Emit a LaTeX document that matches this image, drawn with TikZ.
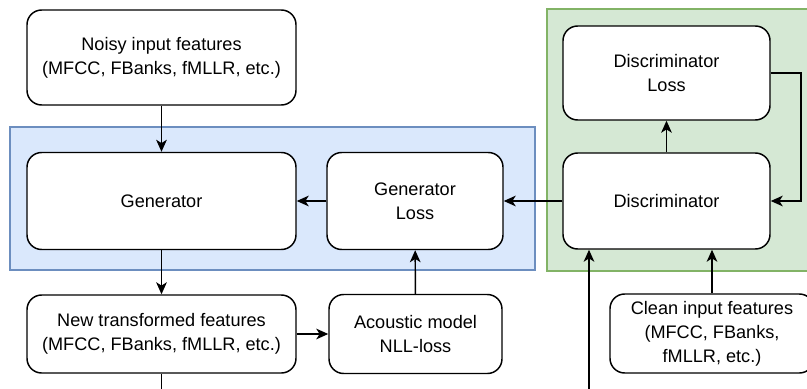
\documentclass[tikz,border=0pt]{standalone}
\usepackage{fontspec}
\setmainfont{Liberation Sans}
\usetikzlibrary{arrows.meta}

\tikzset{
  blk/.style={draw, fill=white, rounded corners=11pt, line width=1.1pt, align=center,
    font=\fontsize{13.6}{18}\selectfont, inner sep=0pt},
  arr/.style={-{Stealth[length=9pt,width=8pt,inset=2.5pt]}, line width=1.1pt},
  ln/.style={line width=1.1pt}
}

\begin{document}
\begin{tikzpicture}[x=0.75pt,y=-0.75pt]
  \useasboundingbox (0,0) rectangle (807,389);
  % Draw the two groups
  \draw[fill={rgb,255:red,218;green,232;blue,252}, draw={rgb,255:red,108;green,142;blue,191}, line width=1.1pt] (10,127) rectangle (535,270);
  \draw[fill={rgb,255:red,213;green,232;blue,212}, draw={rgb,255:red,130;green,179;blue,102}, line width=1.1pt] (547,9) rectangle (820,271);
  % Boxes
  \node[blk, minimum width=269*0.75pt, minimum height=95*0.75pt] (noisy) at (161.5,57.5) {Noisy input features\\(MFCC, FBanks, fMLLR, etc.)};
  \node[blk, minimum width=269*0.75pt, minimum height=97*0.75pt] (gen) at (161.5,201) {Generator};
  \node[blk, minimum width=176*0.75pt, minimum height=97*0.75pt] (genloss) at (415,201) {Generator\\Loss};
  \node[blk, minimum width=207*0.75pt, minimum height=96*0.75pt] (disc) at (666.5,201) {Discriminator};
  \node[blk, minimum width=207*0.75pt, minimum height=94*0.75pt] (discloss) at (666.5,73) {Discriminator\\Loss};
  \node[blk, minimum width=269*0.75pt, minimum height=78*0.75pt] (newfeat) at (161.5,334) {New transformed features\\(MFCC, FBanks, fMLLR, etc.)};
  \node[blk, minimum width=173*0.75pt, minimum height=79*0.75pt] (acoustic) at (415.5,334) {Acoustic model\\NLL-loss};
  \node[blk, minimum width=204*0.75pt, minimum height=79*0.75pt] (clean) at (712,333.5) {Clean input features\\(MFCC, FBanks,\\fMLLR, etc.)};
  % Free ends at the bottom edge
  \coordinate (outfeat) at (161.5,395);
  \coordinate (intodisc) at (589,395);
  \coordinate (loopcorner) at (801,73);
  % Connectors
  \draw[arr] (noisy) -- (gen);
  \draw[arr] (gen) -- (newfeat);
  \draw[ln] (newfeat) -- (outfeat);
  \draw[arr] (newfeat) -- (acoustic);
  \draw[arr] (acoustic) -- (genloss);
  \draw[arr] (genloss) -- (gen);
  \draw[arr] (disc) -- (genloss);
  \draw[arr] (disc) -- (discloss);
  \draw[arr] (discloss.east) -- (loopcorner) |- (disc.east);
  \draw[arr] (clean.north) -- (clean.north |- disc.south);
  \draw[arr] (intodisc) -- (intodisc |- disc.south);
\end{tikzpicture}
\end{document}
